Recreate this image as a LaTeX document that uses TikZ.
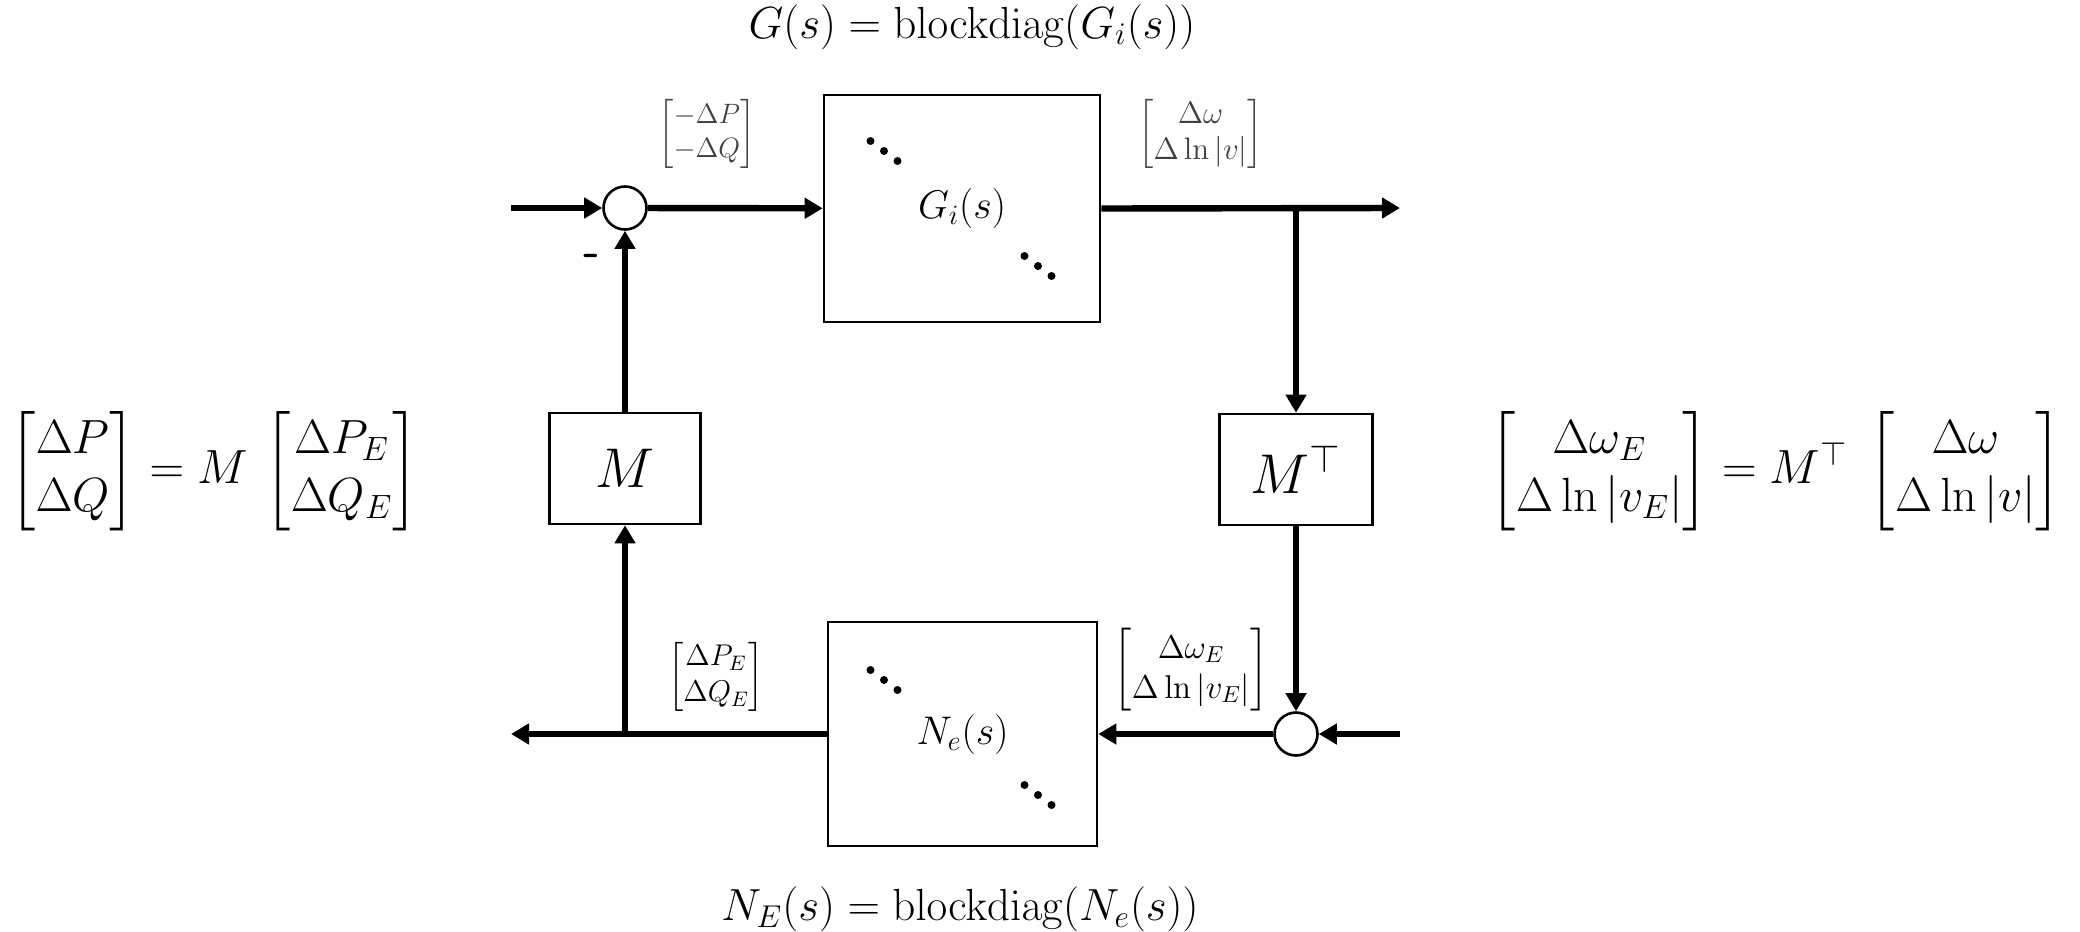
\RequirePackage{fix-cm}
\documentclass[tikz,border=0pt]{standalone}
\usepackage{amsmath}
\usetikzlibrary{arrows.meta}
\tikzset{
  blk/.style={draw, line width=1.3pt, inner sep=0pt, fill=white},
  sumj/.style={circle, draw, line width=1.3pt, minimum size=21.5pt, inner sep=0pt, fill=white},
  sig/.style={line width=3.2pt, -{Triangle[length=9pt,width=10pt]}},
  biglbl/.style={inner sep=0pt, font=\fontsize{22.5}{27}\selectfont},
  eqlbl/.style={inner sep=0pt, font=\fontsize{24}{29}\selectfont},
  smlbl/.style={inner sep=0pt, font=\fontsize{15}{18}\selectfont},
  dotf/.style={fill=black},
}
\begin{document}
\begin{tikzpicture}[x=0.5pt, y=-0.5pt]
\useasboundingbox (0,0) rectangle (2080,931);

% blocks
\node[blk, minimum width=138pt, minimum height=113.5pt, font=\fontsize{20}{24}\selectfont] (G) at (962,208.5) {$G_i(s)$};
\node[blk, minimum width=134.5pt, minimum height=112pt, font=\fontsize{20}{24}\selectfont] (N) at (962.5,734) {$N_e(s)$};
\node[blk, minimum width=75.5pt, minimum height=55.5pt, font=\fontsize{28}{32}\selectfont] (M) at (625,468.5) {$M$};
\node[blk, minimum width=76.5pt, minimum height=55.5pt, font=\fontsize{28}{32}\selectfont] (MT) at (1296,469.5) {$M^{\top}$};

% summing junctions
\node[sumj] (s1) at (625,208) {};
\node[sumj] (s2) at (1296,734) {};

% diagonal dots
\foreach \cx/\cy in {884/151, 1038/266, 884/680, 1038/795} {
  \foreach \k in {-1,0,1} \fill[dotf] (\cx+13.5*\k, \cy+10*\k) circle[radius=2pt];
}

% coordinates
\coordinate (in1) at (511,208);
\coordinate (out1) at (1400,208);
\coordinate (br1) at (1296,208);
\coordinate (in2) at (1400,734);
\coordinate (out2) at (511,734);
\coordinate (br2) at (625,734);

% connectors
\draw[sig] (in1) -- (s1);
\draw[sig] (s1) -- (G);
\draw[sig] (G.east) -- (out1);
\draw[sig] (br1) -- (MT.north);
\draw[sig] (MT.south) -- (s2);
\draw[sig] (in2) -- (s2);
\draw[sig] (s2) -- (N);
\draw[sig] (N.west) -- (out2);
\draw[sig] (br2) -- (M.south);
\draw[sig] (M.north) -- (s1);

% minus sign
\node[inner sep=0pt, font=\fontsize{23}{26}\selectfont\sffamily\bfseries] (minus) at (592,260) {-};

% small signal labels
\node[smlbl, text=black!75, font=\fontsize{14}{17}\selectfont] (l1) at (707,134) {$\begin{bmatrix}-\Delta P\\ -\Delta Q\end{bmatrix}$};
\node[smlbl, text=black!75, font=\fontsize{15.5}{18}\selectfont] (l2) at (1200.5,134) {$\begin{bmatrix}\Delta\omega\\ \Delta\ln|v|\end{bmatrix}$};
\node[smlbl] (l3) at (716,676.5) {$\begin{bmatrix}\Delta P_E\\ \Delta Q_E\end{bmatrix}$};
\node[smlbl, font=\fontsize{16.5}{20}\selectfont] (l4) at (1191,670) {$\begin{bmatrix}\Delta\omega_E\\ \Delta\ln|v_E|\end{bmatrix}$};

% big labels
\node[biglbl] (tg) at (972,27) {$G(s)=\mathrm{blockdiag}(G_i(s))$};
\node[biglbl] (tn) at (960,909) {$N_E(s)=\mathrm{blockdiag}(N_e(s))$};

% equations
\node[eqlbl] (eqL) at (214,471) {$\begin{bmatrix}\Delta P\\ \Delta Q\end{bmatrix}=M\hspace{0.18em}\begin{bmatrix}\Delta P_E\\ \Delta Q_E\end{bmatrix}$};
\node[eqlbl] (eqR) at (1776,471) {$\begin{bmatrix}\Delta\omega_E\\ \Delta\ln|v_E|\end{bmatrix}=M^{\top}\hspace{0.28em}\begin{bmatrix}\Delta\omega\\ \Delta\ln|v|\end{bmatrix}$};
\end{tikzpicture}
\end{document}
